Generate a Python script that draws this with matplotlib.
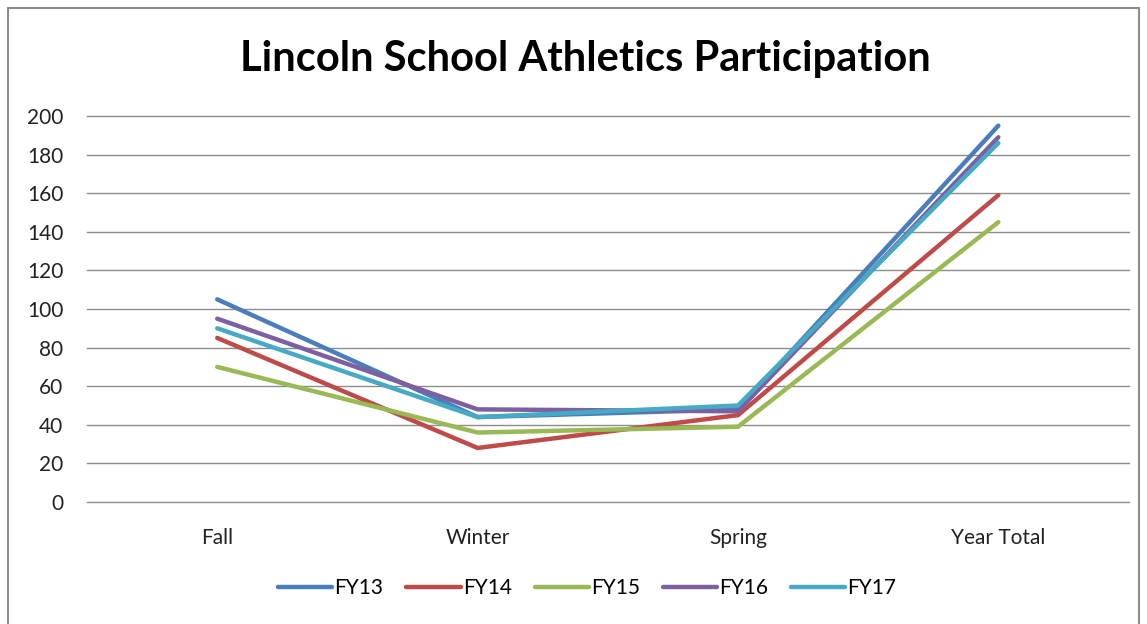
import matplotlib.pyplot as plt
from matplotlib.patches import Rectangle

plt.rcParams['font.family'] = ['Lato', 'DejaVu Sans']

seasons = ['Fall', 'Winter', 'Spring', 'Year Total']
fy13 = [105, 44, 48, 195]
fy14 = [85, 28, 45, 159]
fy15 = [70, 36, 39, 145]
fy16 = [95, 48, 47, 189]
fy17 = [90, 44, 50, 186]

series = [
    ('FY13', fy13, '#4A7EBB'),
    ('FY14', fy14, '#BE4B48'),
    ('FY15', fy15, '#98B954'),
    ('FY16', fy16, '#7D60A0'),
    ('FY17', fy17, '#46AAC5'),
]

fig = plt.figure(figsize=(11.47, 6.24), dpi=100)
ax = fig.add_axes([0.0759, 0.1955, 0.908, 0.6186])

x = range(len(seasons))
for name, vals, color in series:
    ax.plot(x, vals, color=color, linewidth=3.2, label=name,
            solid_capstyle='round', solid_joinstyle='miter', zorder=3)

ax.set_xlim(-0.5, 3.5)
ax.set_ylim(0, 200)
ax.set_yticks(range(0, 201, 20))
ax.set_xticks(list(x))
ax.set_xticklabels(seasons)
for t in range(0, 201, 20):
    ax.axhline(t, color='#8c8c8c', linewidth=1, clip_on=False, zorder=1)
for s in ax.spines.values():
    s.set_visible(False)
ax.tick_params(axis='both', length=0, labelsize=15, colors='#222222')
ax.tick_params(axis='y', pad=17)
ax.tick_params(axis='x', pad=19)

fig.text(0.510, 0.905, 'Lincoln School Athletics Participation',
         ha='center', va='center', fontsize=30, fontweight='bold')

fig.legend(loc='center', bbox_to_anchor=(0.512, 0.058), ncol=5,
           frameon=False, fontsize=15, handlelength=2.6,
           handletextpad=0.1, columnspacing=1.1)

fig.patches.append(Rectangle((0.007, -0.05), 0.986, 1.037,
                             transform=fig.transFigure, fill=False,
                             edgecolor='#8c8c8c', linewidth=1.5))

fig.savefig('out.png', dpi=100)
